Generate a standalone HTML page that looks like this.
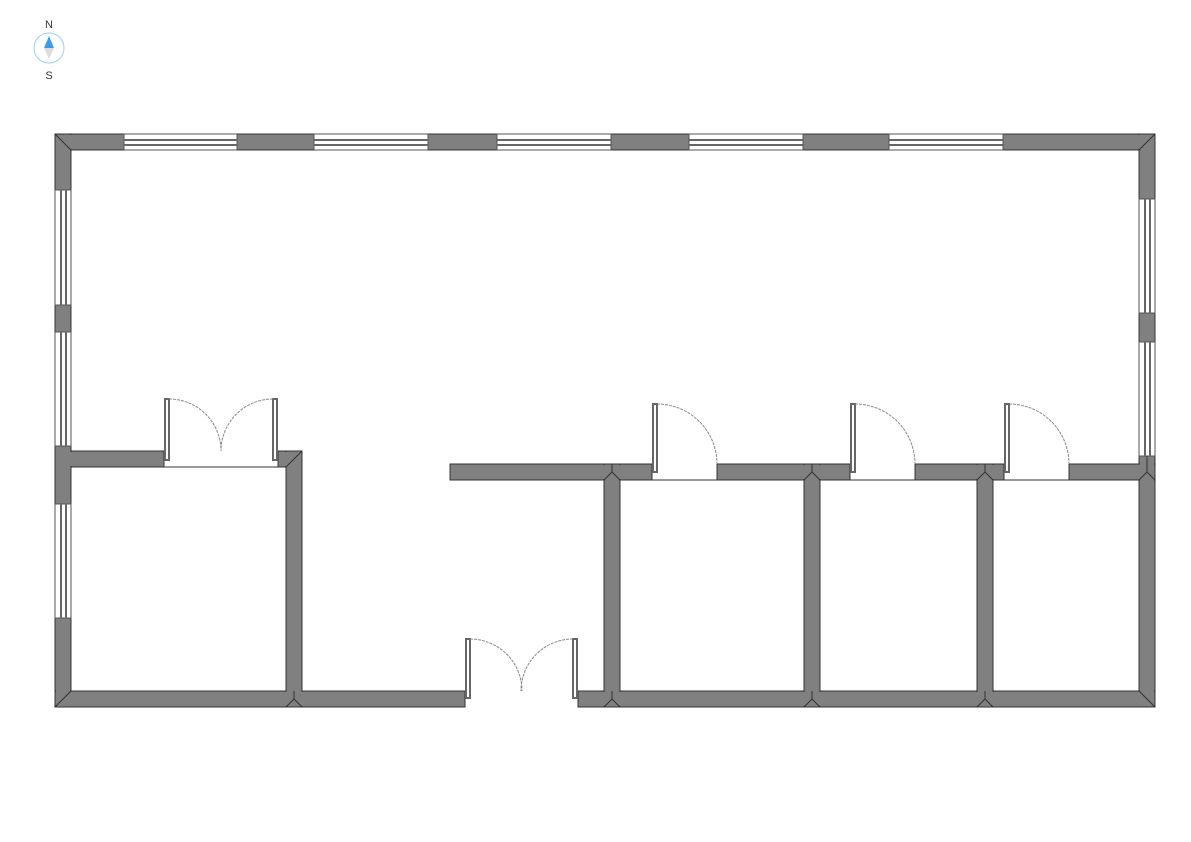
<!DOCTYPE html>
<html><head><style>html,body{margin:0;padding:0;background:#fff;width:1191px;height:842px;overflow:hidden}</style></head>
<body>
<svg width="1191" height="842" viewBox="0 0 1191 842" xmlns="http://www.w3.org/2000/svg">
<g font-family="Liberation Sans, sans-serif" font-size="11" fill="#333" text-anchor="middle">
<text x="49" y="28">N</text><text x="49" y="79">S</text></g>
<circle cx="49" cy="48" r="15" fill="#fff" stroke="#9ccff5" stroke-width="1"/>
<polygon points="49,36 44,48 54,48" fill="#3b9be8"/>
<polygon points="44,48 54,48 49,59" fill="#ddd"/>
<g fill="#808080" stroke="#333" stroke-width="1">
<rect x="55" y="134" width="69" height="16"/>
<rect x="237" y="134" width="77" height="16"/>
<rect x="428" y="134" width="69" height="16"/>
<rect x="611" y="134" width="78" height="16"/>
<rect x="803" y="134" width="86" height="16"/>
<rect x="1003" y="134" width="152" height="16"/>
<rect x="55" y="134" width="16" height="56"/>
<rect x="55" y="305" width="16" height="27"/>
<rect x="55" y="446" width="16" height="58"/>
<rect x="55" y="618" width="16" height="89"/>
<rect x="1139" y="134" width="16" height="65"/>
<rect x="1139" y="313" width="16" height="29"/>
<rect x="1139" y="456" width="16" height="251"/>
<rect x="55" y="691" width="410" height="16"/>
<rect x="578" y="691" width="577" height="16"/>
<rect x="71" y="451" width="93" height="16"/>
<rect x="278" y="451" width="24" height="16"/>
<rect x="286" y="451" width="16" height="256"/>
<rect x="450" y="464" width="202" height="16"/>
<rect x="717" y="464" width="133" height="16"/>
<rect x="915" y="464" width="89" height="16"/>
<rect x="1069" y="464" width="86" height="16"/>
<rect x="604" y="464" width="16" height="243"/>
<rect x="804" y="464" width="16" height="243"/>
<rect x="977" y="464" width="16" height="243"/>
</g>
<!-- junction cleanup overlays -->
<g fill="#808080">
<rect x="56" y="135" width="1098" height="14"/>
<rect x="56" y="692" width="408" height="14"/>
<rect x="579" y="692" width="575" height="14"/>
<rect x="56" y="447" width="14" height="56"/>
<rect x="56" y="619" width="14" height="87"/>
<rect x="1140" y="457" width="14" height="249"/>
<rect x="56" y="452" width="20" height="14"/>
<rect x="279" y="452" width="22" height="14"/>
<rect x="287" y="452" width="14" height="254"/>
<rect x="451" y="465" width="200" height="14"/>
<rect x="718" y="465" width="131" height="14"/>
<rect x="916" y="465" width="87" height="14"/>
<rect x="1070" y="465" width="84" height="14"/>
<rect x="605" y="465" width="14" height="241"/>
<rect x="805" y="465" width="14" height="241"/>
<rect x="978" y="465" width="14" height="241"/>
</g>
<g fill="#fff" stroke="#555" stroke-width="1">
<rect x="124" y="134" width="113" height="16"/>
<rect x="314" y="134" width="114" height="16"/>
<rect x="497" y="134" width="114" height="16"/>
<rect x="689" y="134" width="114" height="16"/>
<rect x="889" y="134" width="114" height="16"/>
<rect x="55" y="190" width="16" height="115"/>
<rect x="55" y="332" width="16" height="114"/>
<rect x="55" y="504" width="16" height="114"/>
<rect x="1139" y="199" width="16" height="114"/>
<rect x="1139" y="342" width="16" height="114"/>
</g>
<g stroke="#666" stroke-width="2">
<path d="M124 140H237M124 145H237M314 140H428M314 145H428M497 140H611M497 145H611M689 140H803M689 145H803M889 140H1003M889 145H1003"/>
<path d="M61 190V305M66 190V305M61 332V446M66 332V446M61 504V618M66 504V618M1145 199V313M1150 199V313M1145 342V456M1150 342V456"/>
</g>
<rect x="56" y="135" width="14" height="14" fill="#808080"/>
<rect x="1140" y="135" width="14" height="14" fill="#808080"/>
<g stroke="#333" stroke-width="1" fill="none">
<path d="M55 134L71 150M1155 134L1139 150M55 707L71 691M1155 707L1139 691M302 451L286 467M302 707L294 699L286 707"/>
<path d="M612 464V472M604 480L612 472L620 480M812 464V472M804 480L812 472L820 480M985 464V472M977 480L985 472L993 480M604 707L612 699L620 707M804 707L812 699L820 707M977 707L985 699L993 707M1147 456V472M1139 480L1147 472L1155 480M612 691V699M812 691V699M985 691V699M294 691V699"/>
<path d="M164 467H278M652 480H717M850 480H915M1004 480H1069"/>
</g>
<g fill="#fff" stroke="#666" stroke-width="2">
<rect x="165" y="399" width="4" height="61"/>
<rect x="273" y="399" width="4" height="61"/>
<rect x="653" y="404" width="4" height="68"/>
<rect x="851" y="404" width="4" height="68"/>
<rect x="1005" y="404" width="4" height="68"/>
<rect x="466" y="639" width="4" height="59"/>
<rect x="573" y="639" width="4" height="59"/>
</g>
<g fill="none" stroke="#888" stroke-width="1" stroke-dasharray="3,1">
<path d="M169 399A52 52 0 0 1 221 451M273 399A52 52 0 0 0 221 451"/>
<path d="M657 404A60 60 0 0 1 717 464M855 404A60 60 0 0 1 915 464M1009 404A60 60 0 0 1 1069 464"/>
<path d="M470 639A52 52 0 0 1 522 691M573 639A52 52 0 0 0 521 691"/>
</g>
</svg>
</body></html>
